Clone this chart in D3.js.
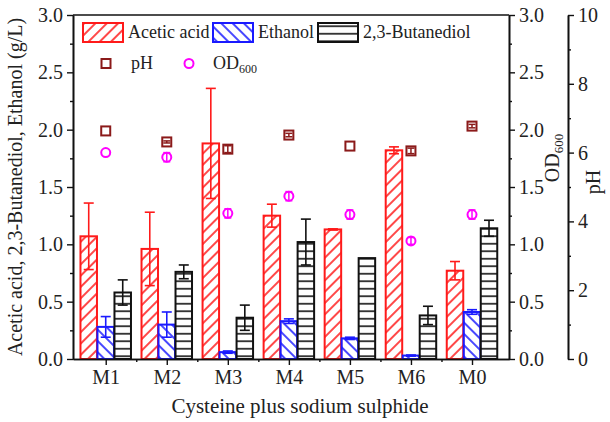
<!DOCTYPE html>
<html>
<head>
<meta charset="utf-8">
<script src="https://cdn.jsdelivr.net/npm/d3@7"></script>
<style>
  body { margin: 0; background: #fff; }
  svg text { font-family: "Liberation Serif", "Times New Roman", serif; fill: #222; }
</style>
</head>
<body>
<svg id="chart" width="610" height="422"></svg>
<script>
// data
var groups = ["M1", "M2", "M3", "M4", "M5", "M6", "M0"];
var acetic = [1.07, 0.96, 1.88, 1.25, 1.13, 1.82, 0.77];
var aceticErr = [0.29, 0.32, 0.48, 0.10, 0.005, 0.03, 0.08];
var ethanol = [0.28, 0.30, 0.06, 0.33, 0.18, 0.03, 0.41];
var ethanolErr = [0.09, 0.11, 0.01, 0.02, 0.01, 0.005, 0.02];
var butanediol = [0.58, 0.76, 0.36, 1.02, 0.88, 0.38, 1.14];
var butanediolErr = [0.11, 0.06, 0.11, 0.20, 0.0, 0.08, 0.07];
var pH = [6.63, 6.31, 6.10, 6.51, 6.19, 6.05, 6.77];
var pHErr = [0.0, 0.03, 0.1, 0.05, 0.0, 0.08, 0.05];
var od600 = [1.80, 1.76, 1.27, 1.42, 1.26, 1.03, 1.26];
var odErr = [0.0, 0.04, 0.04, 0.04, 0.04, 0.03, 0.04];
var leftTicks = [0, 0.5, 1.0, 1.5, 2.0, 2.5, 3.0];
var pHTicks = [0, 2, 4, 6, 8, 10];

var svg = d3.select("#chart");
var pLeft = 73, pRight = 509, pTop = 15, pBottom = 359, pHx = 568;

var x = d3.scaleLinear().domain([0.464, 7.606]).range([pLeft, pRight]);
var y = d3.scaleLinear().domain([0, 3]).range([pBottom, pTop]);
var yPH = d3.scaleLinear().domain([0, 10]).range([pBottom, pTop]);

// hatch patterns
var defs = svg.append("defs");
function hatch(id, color, angle, gap) {
  var p = defs.append("pattern").attr("id", id).attr("patternUnits", "userSpaceOnUse")
    .attr("width", gap).attr("height", gap).attr("patternTransform", "rotate(" + angle + ")");
  p.append("line").attr("x1", 0).attr("y1", gap / 2).attr("x2", gap).attr("y2", gap / 2)
    .attr("stroke", color).attr("stroke-width", 1.6);
}
hatch("hAcetic", "#ff1a1a", -45, 8);
hatch("hEthanol", "#1a1aff", 45, 8);
hatch("hButane", "#111", 0, 7.5);

var series = [
  { name: "Acetic acid", vals: acetic, err: aceticErr, color: "#ff1a1a", fill: "url(#hAcetic)", off: -17 },
  { name: "Ethanol", vals: ethanol, err: ethanolErr, color: "#1a1aff", fill: "url(#hEthanol)", off: 0 },
  { name: "2,3-Butanediol", vals: butanediol, err: butanediolErr, color: "#111", fill: "url(#hButane)", off: 17 }
];
var bw = 16.5;

series.forEach(function (s) {
  var g = svg.append("g");
  g.selectAll("rect").data(s.vals).enter().append("rect")
    .attr("x", function (d, i) { return x(i + 1) + s.off - bw / 2; })
    .attr("y", function (d) { return y(d); })
    .attr("width", bw)
    .attr("height", function (d) { return pBottom - y(d); })
    .attr("fill", s.fill).attr("stroke", s.color).attr("stroke-width", 2);
  // error bars
  s.vals.forEach(function (d, i) {
    var e = s.err[i];
    if (e <= 0) return;
    var cx = x(i + 1) + s.off;
    var lo = y(Math.max(0, d - e)), hi = y(d + e);
    var eg = g.append("g").attr("stroke", s.color).attr("stroke-width", 1.6);
    eg.append("line").attr("x1", cx).attr("x2", cx).attr("y1", hi).attr("y2", lo);
    eg.append("line").attr("x1", cx - 5).attr("x2", cx + 5).attr("y1", hi).attr("y2", hi);
    eg.append("line").attr("x1", cx - 5).attr("x2", cx + 5).attr("y1", lo).attr("y2", lo);
  });
});

function markerErr(g, cx, yScale, d, e, color) {
  g.append("line").attr("x1", cx).attr("x2", cx).attr("y1", yScale(d + e)).attr("y2", yScale(d - e))
    .attr("stroke", color).attr("stroke-width", 1.5);
  [d + e, d - e].forEach(function (v) {
    g.append("line").attr("x1", cx - 3.5).attr("x2", cx + 3.5).attr("y1", yScale(v)).attr("y2", yScale(v))
      .attr("stroke", color).attr("stroke-width", 1.5);
  });
}

// pH squares
var pHg = svg.append("g");
pH.forEach(function (d, i) {
  var cx = x(i + 1), cy = yPH(d);
  pHg.append("rect").attr("x", cx - 4.5).attr("y", cy - 4.5).attr("width", 9).attr("height", 9)
    .attr("fill", "#fff").attr("stroke", "#8b1a1a").attr("stroke-width", 2);
  if (pHErr[i] > 0) markerErr(pHg, cx, yPH, d, pHErr[i], "#8b1a1a");
});

// OD600 circles
var odg = svg.append("g");
od600.forEach(function (d, i) {
  var cx = x(i + 1), cy = y(d);
  odg.append("circle").attr("cx", cx).attr("cy", cy).attr("r", 4.5)
    .attr("fill", "#fff").attr("stroke", "#ff00ff").attr("stroke-width", 2);
  if (odErr[i] > 0) markerErr(odg, cx, y, d, odErr[i], "#ff00ff");
});

// axes
function styleAxis(g) {
  g.select(".domain").attr("stroke", "#111").attr("stroke-width", 1.6);
  g.selectAll(".tick line").attr("stroke", "#111").attr("stroke-width", 1.4);
  g.selectAll(".tick text").attr("font-size", 20).attr("fill", "#222")
    .attr("font-family", "Liberation Serif, serif");
}
var minorLeft = d3.range(0.25, 3, 0.5);

// left
svg.append("g").attr("transform", "translate(" + pLeft + ",0)")
  .call(d3.axisLeft(y).tickValues(minorLeft).tickSize(3).tickFormat("").tickSizeOuter(0)).call(styleAxis);
svg.append("g").attr("transform", "translate(" + pLeft + ",0)")
  .call(d3.axisLeft(y).tickValues(leftTicks).tickSize(6).tickPadding(4).tickFormat(d3.format(".1f")).tickSizeOuter(0))
  .call(styleAxis);

// right OD600
svg.append("g").attr("transform", "translate(" + pRight + ",0)")
  .call(d3.axisRight(y).tickValues(minorLeft).tickSize(3).tickFormat("").tickSizeOuter(0)).call(styleAxis);
svg.append("g").attr("transform", "translate(" + pRight + ",0)")
  .call(d3.axisRight(y).tickValues(leftTicks).tickSize(6).tickPadding(4).tickFormat(d3.format(".1f")).tickSizeOuter(0))
  .call(styleAxis);

// pH axis
svg.append("g").attr("transform", "translate(" + pHx + ",0)")
  .call(d3.axisRight(yPH).tickValues([1, 3, 5, 7, 9]).tickSize(3).tickFormat("").tickSizeOuter(0)).call(styleAxis);
svg.append("g").attr("transform", "translate(" + pHx + ",0)")
  .call(d3.axisRight(yPH).tickValues(pHTicks).tickSize(6).tickPadding(4).tickFormat(d3.format("d")).tickSizeOuter(0))
  .call(styleAxis);

// bottom
svg.append("g").attr("transform", "translate(0," + pBottom + ")")
  .call(d3.axisBottom(x).tickValues(d3.range(1.5, 7, 1)).tickSize(3).tickFormat("").tickSizeOuter(0)).call(styleAxis);
svg.append("g").attr("transform", "translate(0," + pBottom + ")")
  .call(d3.axisBottom(x).tickValues(d3.range(1, 8)).tickSize(6).tickPadding(5)
    .tickFormat(function (d) { return groups[d - 1]; }).tickSizeOuter(0))
  .call(styleAxis);

// top border
svg.append("line").attr("x1", pLeft).attr("x2", pRight).attr("y1", pTop).attr("y2", pTop)
  .attr("stroke", "#111").attr("stroke-width", 1.6);

// axis titles
svg.append("text").attr("x", 300).attr("y", 413).attr("text-anchor", "middle")
  .attr("font-size", 21).text("Cysteine plus sodium sulphide");
svg.append("text").attr("transform", "translate(22,187) rotate(-90)").attr("text-anchor", "middle")
  .attr("font-size", 20).text("Acetic acid, 2,3-Butanediol, Ethanol (g/L)");
var odT = svg.append("text").attr("transform", "translate(559,158) rotate(-90)").attr("text-anchor", "middle")
  .attr("font-size", 20);
odT.append("tspan").text("OD");
odT.append("tspan").attr("font-size", 13).attr("dy", 4).text("600");
svg.append("text").attr("transform", "translate(600,182) rotate(-90)").attr("text-anchor", "middle")
  .attr("font-size", 20).text("pH");

// legend
var lg = svg.append("g");
var legX = [83, 213, 318];
series.forEach(function (s, i) {
  lg.append("rect").attr("x", legX[i]).attr("y", 23).attr("width", 40).attr("height", 19)
    .attr("fill", s.fill).attr("stroke", s.color).attr("stroke-width", 2);
  lg.append("text").attr("x", legX[i] + 45).attr("y", 38).attr("font-size", 18).text(s.name);
});
lg.append("rect").attr("x", 101.5).attr("y", 59).attr("width", 9).attr("height", 9)
  .attr("fill", "#fff").attr("stroke", "#8b1a1a").attr("stroke-width", 2);
lg.append("text").attr("x", 131).attr("y", 69).attr("font-size", 18).text("pH");
lg.append("circle").attr("cx", 189).attr("cy", 63.5).attr("r", 4.5)
  .attr("fill", "#fff").attr("stroke", "#ff00ff").attr("stroke-width", 2);
var odL = lg.append("text").attr("x", 213).attr("y", 69).attr("font-size", 18);
odL.append("tspan").text("OD");
odL.append("tspan").attr("font-size", 12).attr("dy", 4).text("600");
</script>
</body>
</html>
